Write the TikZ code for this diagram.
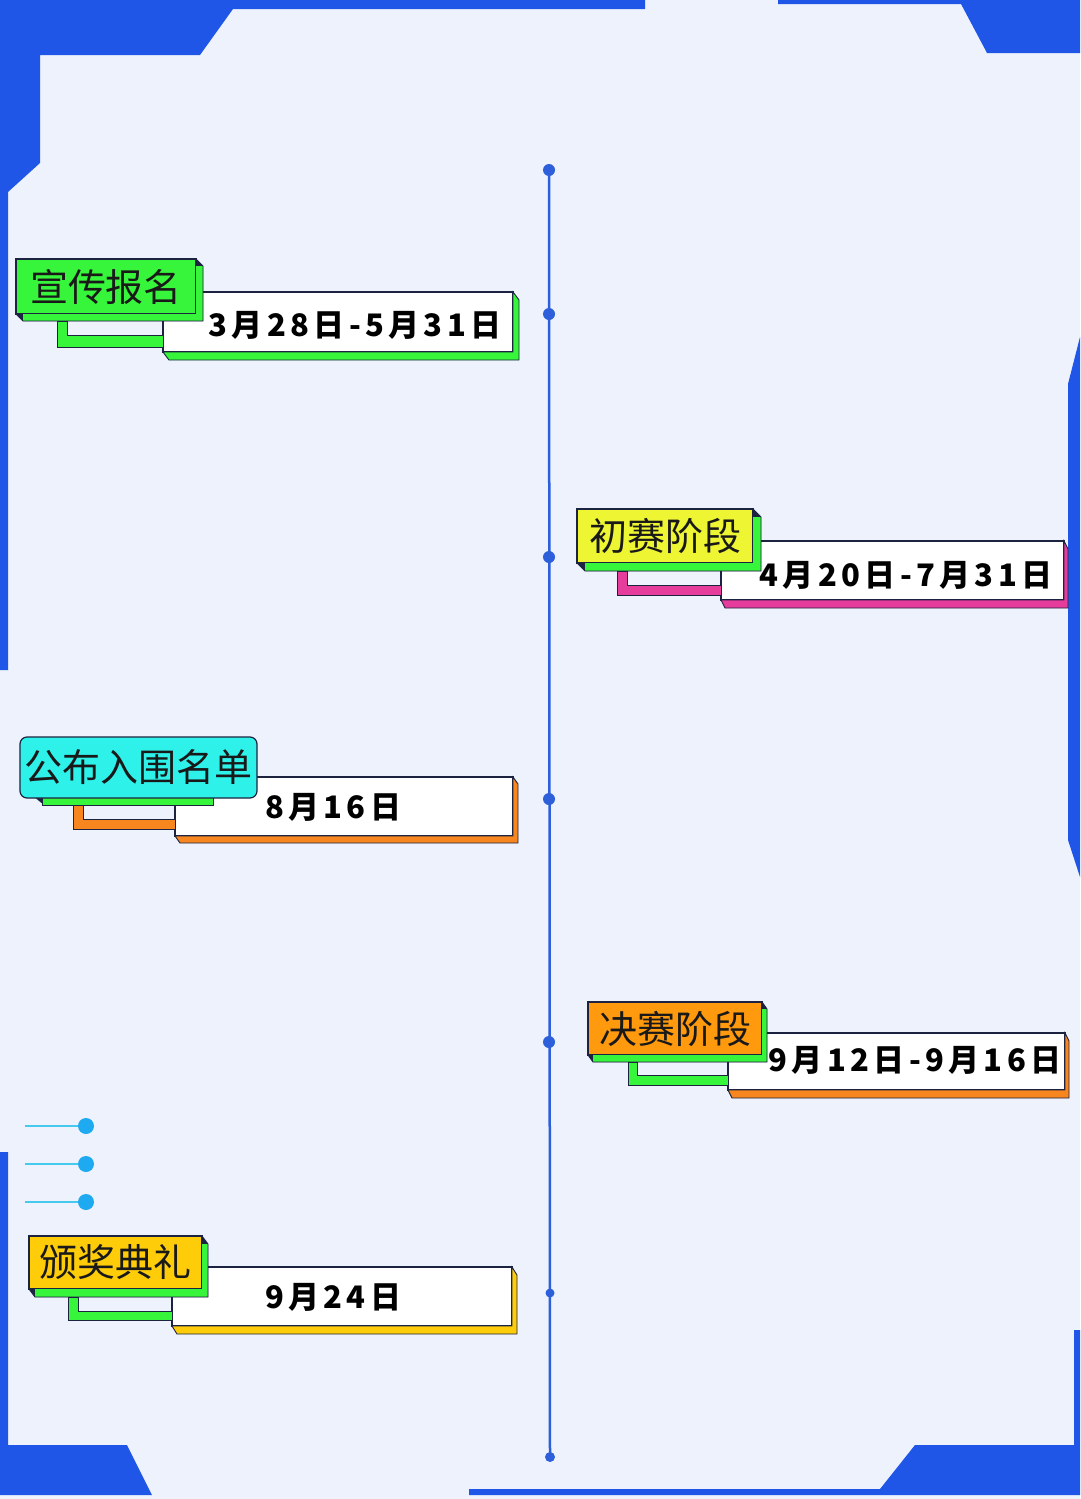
\documentclass[tikz,border=0pt]{standalone}
\usepackage{fontspec}
\usetikzlibrary{calc}
\newfontfamily\cjk{Noto Sans CJK SC}
\newfontfamily\datefont[LetterSpace=14]{Noto Sans CJK SC}
\definecolor{bg}{HTML}{EDF2FC}
\definecolor{framec}{HTML}{1F56E8}
\definecolor{tline}{HTML}{2D5FDB}
\definecolor{ol}{HTML}{1C2340}
\definecolor{cgreen}{HTML}{36F53A}
\definecolor{cyellow}{HTML}{EEF533}
\definecolor{ccyan}{HTML}{2EF2EA}
\definecolor{corange}{HTML}{FF9A0E}
\definecolor{cext}{HTML}{F7861E}
\definecolor{cpink}{HTML}{E63D9C}
\definecolor{cgold}{HTML}{FFCC0A}
\definecolor{deco}{HTML}{45C9EC}
\definecolor{decodot}{HTML}{1EAAF0}
\tikzset{
  titlebox/.style={draw=ol, line width=1.2pt, fill=#1, inner sep=0pt, outer sep=0pt, anchor=north west,
    font=\cjk\fontsize{38}{38}\selectfont, text=black!90},
  datebox/.style={draw=ol, line width=1.2pt, fill=white, inner sep=0pt, outer sep=0pt, anchor=north west},
  datetext/.style={font=\datefont\bfseries\fontsize{31}{31}\selectfont, text=black, inner sep=0pt},
  bar/.style={draw=ol, line width=0.9pt, fill=#1},
  tdot/.style={circle, fill=tline, inner sep=0pt, minimum size=#1},
  ddot/.style={circle, fill=decodot, inner sep=0pt, minimum size=16pt},
  decoline/.style={draw=deco, line width=2.5pt},
  framefill/.style={fill=framec},
}
% extrusion with plain corners: node, dx, dy, colour
\newcommand\extr[4]{%
  \filldraw[fill=#4, draw=ol, line width=0.9pt] (#1.north east) -- ++(#2,#3) |- ($(#1.south west)+(#2,#3)$) -- (#1.south west) -| (#1.north east) -- cycle;}
% extrusion with dark corner triangles
\newcommand\extrd[4]{%
  \fill[ol] (#1.north east) -- ++(#2,#3) |- ($(#1.south west)+(#2,#3)$) -- (#1.south west) -| (#1.north east) -- cycle;
  \fill[#4] ($(#1.north east)+(0,#3)$) rectangle ($(#1.south east)+(#2,#3)$);
  \fill[#4] ($(#1.south west)+(#2,0)$) rectangle ($(#1.south east)+(#2,#3)$);
  \draw[ol, line width=0.9pt] (#1.north east) -- ++(#2,#3) |- ($(#1.south west)+(#2,#3)$) -- (#1.south west);}
\begin{document}
\begin{tikzpicture}[x=1pt,y=-1pt]
\useasboundingbox (0,0) rectangle (1080,1499);
\fill[bg] (0,0) rectangle (1080,1499);
% frame
\fill[framefill] (0,0) -- (645,0) -- (645,9) -- (233,9) -- (200,55) -- (40,55) -- (40,163) -- (8,192) -- (8,670) -- (0,670) -- cycle;
\fill[framefill] (778,0) -- (1080,0) -- (1080,53) -- (987,53) -- (961,4) -- (778,4) -- cycle;
\fill[framefill] (1080,337) -- (1068,384) -- (1068,840) -- (1080,877) -- cycle;
\fill[framefill] (0,1152) -- (8,1152) -- (8,1445) -- (127,1445) -- (152,1495) -- (0,1495) -- cycle;
\fill[framefill] (1074,1330) -- (1080,1330) -- (1080,1495) -- (469,1495) -- (469,1489) -- (880,1489) -- (915,1445) -- (1074,1445) -- cycle;
% timeline
\node[tdot=12pt] (p1) at (549,170) {};
\node[tdot=12pt] (p2) at (549,314) {};
\node[tdot=12pt] (p3) at (549,557) {};
\node[tdot=12pt] (p4) at (549,799) {};
\node[tdot=12pt] (p5) at (549,1042) {};
\node[tdot=9pt] (p6) at (550,1293) {};
\node[tdot=10pt] (p7) at (550,1457) {};
\draw[tline, line width=2.5pt] (p1.center) -- (p7.center);
% decorations
\foreach \i/\yy in {1/1126,2/1164,3/1202}{
  \node[ddot] (q\i) at (86,\yy) {};
  \coordinate (qs\i) at (25,\yy);
  \draw[decoline] (qs\i) -- (q\i);
}
% ---- group 1
\node[datebox, minimum width=350pt, minimum height=60pt] (d1) at (163,292) {};
\extr{d1}{6}{8}{cgreen}
\node[datetext] (dt1) at (355,325) {3月28日-5月31日};
\coordinate (k1a) at (57,321); \coordinate (k1b) at (67,321);
\coordinate (k1u) at (0,335); \coordinate (k1l) at (0,347);
\filldraw[bar=cgreen] (k1a) |- (d1.west |- k1l) -- (d1.west |- k1u) -| (k1b) -- cycle;
\node[titlebox=cgreen, minimum width=180pt, minimum height=55pt] (t1) at (16,259) {宣传报名};
\extrd{t1}{7}{7}{cgreen}
% ---- group 2
\node[datebox, minimum width=343pt, minimum height=59pt] (d2) at (721,541) {};
\extr{d2}{4}{8}{cpink}
\node[datetext] (dt2) at (906,575) {4月20日-7月31日};
\coordinate (k2a) at (617,571); \coordinate (k2b) at (627,571);
\coordinate (k2u) at (0,585); \coordinate (k2l) at (0,595);
\filldraw[bar=cpink] (k2a) |- (d2.west |- k2l) -- (d2.west |- k2u) -| (k2b) -- cycle;
\node[titlebox=cyellow, minimum width=176pt, minimum height=54pt] (t2) at (577,509) {初赛阶段};
\extrd{t2}{8}{8}{cgreen}
% ---- group 3
\node[datebox, minimum width=338pt, minimum height=59pt] (d3) at (175,777) {};
\extr{d3}{5}{7}{cext}
\node[datetext] (dt3) at (333,807) {8月16日};
\coordinate (k3a) at (73,805); \coordinate (k3b) at (83,805);
\coordinate (k3u) at (0,819); \coordinate (k3l) at (0,829);
\filldraw[bar=cext] (k3a) |- (d3.west |- k3l) -- (d3.west |- k3u) -| (k3b) -- cycle;
\fill[ol] (33,796) -- (44,796) -- (44,805) -- cycle;
\filldraw[fill=cgreen, draw=ol, line width=0.9pt] (42,796) rectangle (213,805);
\node[titlebox=ccyan, rounded corners=7pt, minimum width=237pt, minimum height=61pt] (t3) at (20,737) {公布入围名单};
% ---- group 4
\node[datebox, minimum width=337pt, minimum height=57pt] (d4) at (728,1033) {};
\extr{d4}{4}{8}{cext}
\node[datetext] (dt4) at (915,1060) {9月12日-9月16日};
\coordinate (k4a) at (628,1062); \coordinate (k4b) at (637,1062);
\coordinate (k4u) at (0,1075); \coordinate (k4l) at (0,1085);
\filldraw[bar=cgreen] (k4a) |- (d4.west |- k4l) -- (d4.west |- k4u) -| (k4b) -- cycle;
\node[titlebox=corange, minimum width=174pt, minimum height=53pt] (t4) at (588,1002) {决赛阶段};
\extrd{t4}{5}{7}{cgreen}
% ---- group 5
\node[datebox, minimum width=340pt, minimum height=59pt] (d5) at (172,1267) {};
\extr{d5}{5}{8}{cgold}
\node[datetext] (dt5) at (333,1297) {9月24日};
\coordinate (k5a) at (68,1297); \coordinate (k5b) at (78,1297);
\coordinate (k5u) at (0,1311); \coordinate (k5l) at (0,1320);
\filldraw[bar=cgreen] (k5a) |- (d5.west |- k5l) -- (d5.west |- k5u) -| (k5b) -- cycle;
\node[titlebox=cgold, minimum width=173pt, minimum height=53pt] (t5) at (29,1236) {颁奖典礼};
\extrd{t5}{6}{8}{cgreen}
\end{tikzpicture}
\end{document}
